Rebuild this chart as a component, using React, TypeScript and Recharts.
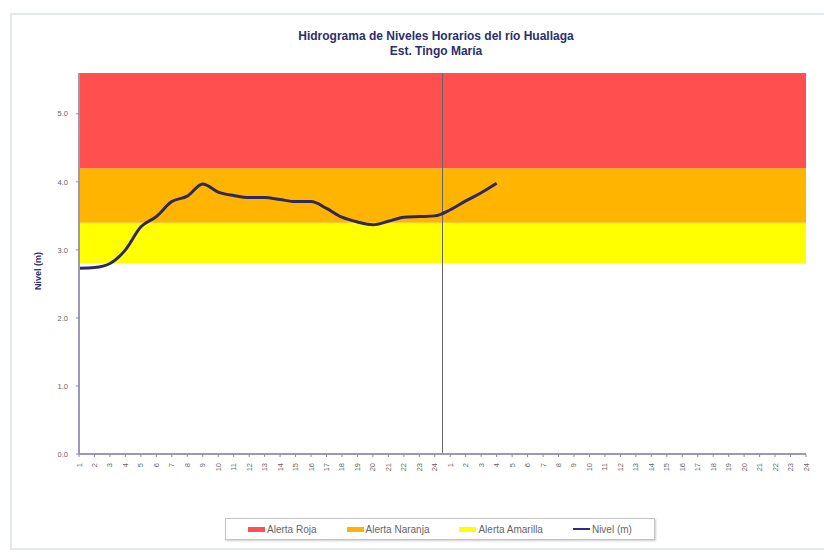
import React from "react";
import { ComposedChart, Line, XAxis, YAxis, ReferenceArea, ReferenceLine } from "recharts";

// Hour labels (two days, hourly)
const hourLabels: string[] = [
  "1","2","3","4","5","6","7","8","9","10","11","12","13","14","15","16","17","18","19","20","21","22","23","24",
  "1","2","3","4","5","6","7","8","9","10","11","12","13","14","15","16","17","18","19","20","21","22","23","24",
];

// Observed level (m) for the first 28 hours
const nivel: number[] = [
  2.73, 2.74, 2.8, 3.0, 3.34, 3.49, 3.71, 3.79, 3.97, 3.85, 3.8, 3.77, 3.77, 3.74,
  3.71, 3.71, 3.61, 3.48, 3.41, 3.37, 3.42, 3.48, 3.49, 3.5, 3.59, 3.72, 3.84, 3.98,
];

// Alert thresholds (m)
const umbralAmarilla = [2.8, 3.4];
const umbralNaranja = [3.4, 4.2];
const umbralRoja = [4.2, 5.6];
const yTicks = [0, 1, 2, 3, 4, 5];

const legendItems = [
  { label: "Alerta Roja", color: "#ff4f4f", type: "rect" },
  { label: "Alerta Naranja", color: "#ffb400", type: "rect" },
  { label: "Alerta Amarilla", color: "#ffff00", type: "rect" },
  { label: "Nivel (m)", color: "#2e2a8c", type: "line" },
];

const data = hourLabels.map((h, i) => ({
  idx: i,
  hora: h,
  nivel: i < nivel.length ? nivel[i] : null,
}));

const font = "'Liberation Sans', Arial, sans-serif";

const XTick = (props: any) => {
  const { x, y, payload } = props;
  return (
    <text
      x={x}
      y={y + 4}
      transform={`rotate(-90, ${x}, ${y + 4})`}
      textAnchor="end"
      dominantBaseline="central"
      fontSize={7.5}
      fill="#666"
      fontFamily={font}
    >
      {hourLabels[payload.value]}
    </text>
  );
};

export default function App() {
  return (
    <div style={{ position: "absolute", left: 0, top: 0, width: 824, height: 558, background: "#fff", fontFamily: font }}>
      <div style={{ position: "absolute", left: 10, top: 13, width: 830, height: 537, border: "2px solid #e3e8ec", boxSizing: "border-box" }} />
      <div style={{ position: "absolute", left: 0, top: 29, width: 872, textAlign: "center", fontSize: 12, fontWeight: "bold", color: "#2b2f6e", lineHeight: "15px" }}>
        Hidrograma de Niveles Horarios del río Huallaga
        <br />
        Est. Tingo María
      </div>
      <div style={{ position: "absolute", left: 38, top: 271, transform: "translate(-50%, -50%) rotate(-90deg)", fontSize: 9, fontWeight: "bold", color: "#2b2f6e", whiteSpace: "nowrap" }}>
        Nivel (m)
      </div>
      <div style={{ position: "absolute", left: 0, top: 0 }}>
        <ComposedChart width={824} height={558} data={data} margin={{ top: 73, right: 18, bottom: 84, left: 29 }}>
          <ReferenceArea y1={umbralAmarilla[0]} y2={umbralAmarilla[1]} fill="#ffff00" fillOpacity={1} stroke="none" ifOverflow="hidden" />
          <ReferenceArea y1={umbralNaranja[0]} y2={umbralNaranja[1]} fill="#ffb400" fillOpacity={1} stroke="none" ifOverflow="hidden" />
          <ReferenceArea y1={umbralRoja[0]} y2={umbralRoja[1]} fill="#ff4f4f" fillOpacity={1} stroke="none" ifOverflow="hidden" />
          <XAxis
            dataKey="idx"
            type="number"
            domain={[0, hourLabels.length - 1]}
            ticks={data.map((d) => d.idx)}
            interval={0}
            height={20}
            tick={<XTick />}
            tickSize={3}
            tickLine={{ stroke: "#8888aa" }}
            axisLine={{ stroke: "#9a9ab8", strokeWidth: 2 }}
          />
          <YAxis
            type="number"
            domain={[0, 5.6]}
            ticks={yTicks}
            allowDataOverflow
            width={50}
            tickFormatter={(v: number) => v.toFixed(1)}
            tick={{ fontSize: 7.5, fill: "#666", fontFamily: font, dx: -6 }}
            tickSize={3}
            tickLine={{ stroke: "#8888aa" }}
            axisLine={{ stroke: "#9a9ab8", strokeWidth: 2 }}
          />
          <ReferenceLine x={23.5} stroke="#666" strokeWidth={1} />
          <Line
            dataKey="nivel"
            type="monotone"
            stroke="#2f2860"
            strokeWidth={3}
            dot={false}
            isAnimationActive={false}
            connectNulls={false}
          />
        </ComposedChart>
      </div>
      <div style={{ position: "absolute", left: 225, top: 518, width: 430, height: 22, border: "1px solid #c4c4c4", boxShadow: "1px 1px 2px #ccc", boxSizing: "border-box", display: "flex", alignItems: "center", justifyContent: "center", gap: 30, fontSize: 10, color: "#666" }}>
        {legendItems.map((it) => (
          <div key={it.label} style={{ display: "flex", alignItems: "center" }}>
            {it.type === "rect" ? (
              <span style={{ display: "inline-block", width: 17, height: 5, background: it.color, marginRight: 2 }} />
            ) : (
              <span style={{ display: "inline-block", width: 17, height: 2, background: it.color, marginRight: 2 }} />
            )}
            <span>{it.label}</span>
          </div>
        ))}
      </div>
    </div>
  );
}
